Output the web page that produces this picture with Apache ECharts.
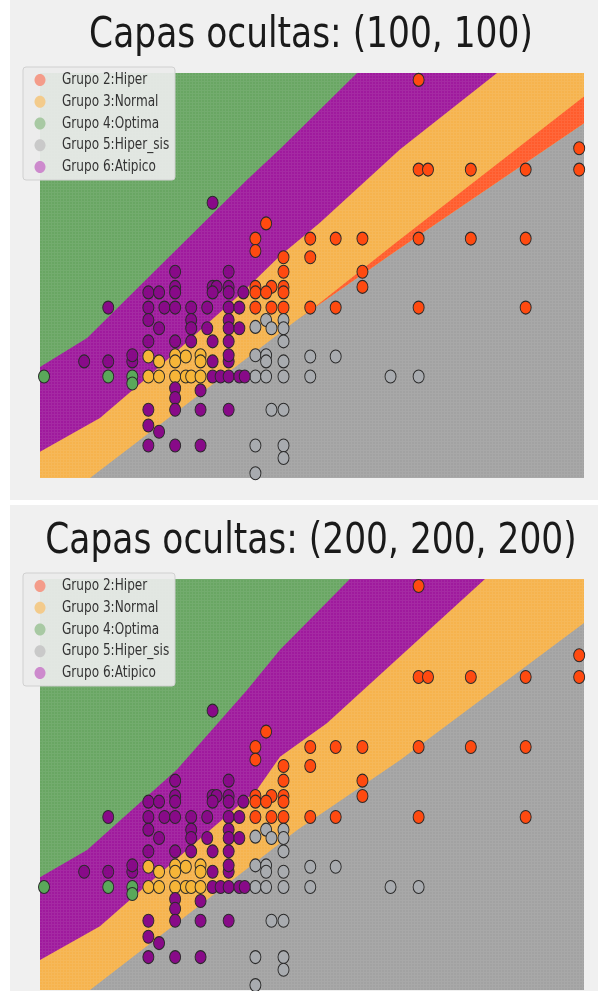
<!DOCTYPE html>
<html>
<head>
<meta charset="utf-8">
<script src="https://cdn.jsdelivr.net/npm/echarts@6/dist/echarts.min.js"></script>
<style>
  html, body { margin: 0; padding: 0; background: #ffffff; }
  #chart { width: 600px; height: 991px; }
</style>
</head>
<body>
<div id="chart"></div>
<script>
// Class names and panel titles
const groupNames = ['Grupo 2:Hiper', 'Grupo 3:Normal', 'Grupo 4:Optima', 'Grupo 5:Hiper_sis', 'Grupo 6:Atipico'];
const panelTitles = ['Capas ocultas: (100, 100)', 'Capas ocultas: (200, 200, 200)'];

// Axis extents of the decision mesh
const xRange = [-1.5, 201.8];
const yRange = [55.3, 114];

// Observations per class: [x, y]
const hiper = [
  [140, 113], [200, 103.1],
  [140, 100], [143.5, 100], [159.5, 100], [180, 100], [200, 100],
  [83, 92.2],
  [79, 90], [99.5, 90], [109, 90], [119, 90], [140, 90], [159.5, 90], [180, 90],
  [79, 88.2], [89.5, 87.3], [99.5, 87.3],
  [89.5, 85.2], [119, 85.2],
  [79, 83], [85, 83], [89.5, 83], [119, 83],
  [79, 82.2], [83, 82.2], [89.5, 82.2],
  [79, 80], [85, 80], [89.5, 80], [99.5, 80], [109, 80], [140, 80], [180, 80]
];
const normal = [
  [39, 72.9], [43, 72.2], [49, 73.1], [49, 72.2], [53, 72.9], [58.5, 73.1], [58.5, 72.2],
  [39, 70], [43, 70], [49, 70], [53, 70], [55, 70], [58.5, 70]
];
const optima = [
  [0, 70], [24, 70], [33, 70], [33, 69]
];
const hiperSis = [
  [79, 77.2], [83, 78.2], [85, 77], [89.5, 78.2], [89.5, 77],
  [89.5, 75.1],
  [79, 73.1], [83, 73.1], [83, 72.2], [89.5, 72.2], [99.5, 72.9], [109, 72.9],
  [79, 70], [83, 70], [89.5, 70], [99.5, 70], [129.5, 70], [140, 70],
  [85, 65.2], [89.5, 65.2],
  [79, 60], [89.5, 60], [89.5, 58.2], [79, 56]
];
const atipico = [
  [63, 95.2],
  [49, 85.2], [69, 85.2],
  [49, 83], [63, 83], [64.5, 83], [69, 83],
  [39, 82.2], [43, 82.2], [49, 82.2], [63, 82.2], [69, 82.2], [74.5, 82.2],
  [24, 80], [39, 80], [45, 80], [49, 80], [55, 80], [61, 80], [69, 80], [73, 80],
  [39, 78.2], [55, 78.2], [69, 78.2],
  [43, 77], [55, 77], [61, 77], [69, 77], [73, 77],
  [39, 75.1], [49, 75.1], [55, 75.1], [63, 75.1], [69, 75.1],
  [15, 72.2], [24, 72.2], [33, 72.2], [33, 73.1], [63, 72.2], [69, 72.2], [69, 73.1],
  [63, 70], [66, 70], [69, 70], [73, 70], [75, 70],
  [49, 68.3], [58.5, 68], [49, 66.9],
  [39, 65.2], [49, 65.2], [58.5, 65.2], [69, 65.2],
  [39, 62.9], [43, 62],
  [39, 60], [49, 60], [58.5, 60]
];
const groupData = [hiper, normal, optima, hiperSis, atipico];

// Decision frontiers of the first network (100, 100)
const frontierOptima1 = [[-1.5, 71.4], [16.1, 75.6], [75.8, 98.5], [88.2, 103.0], [117, 114]];
const frontierAtipico1 = [[-1.5, 59.1], [20.9, 64.0], [39.6, 70.2], [53.4, 75.0], [74.4, 82.3], [88.2, 87.5], [103.1, 92.3], [133, 102.9], [169.3, 114]];
const frontierNormal1 = [[17.2, 55.3], [94.5, 78.2], [131.1, 88.1], [201.8, 106.7]];
const bandHiper1 = [[98, 79.1], [131.1, 89.3], [201.8, 110.6], [201.8, 106.7], [131.1, 88.1], [94.5, 78.2]];

// Decision frontiers of the second network (200, 200, 200)
const frontierOptima2 = [[-1.5, 71.4], [16.1, 75.3], [49.7, 86.8], [75.8, 98.1], [88.2, 103.9], [114.3, 114]];
const frontierAtipico2 = [[-1.5, 59.6], [20.9, 64.4], [53.4, 75.3], [79.6, 83.9], [88.2, 88.6], [105.7, 93.4], [164.8, 114]];
const frontierNormal2 = [[17.2, 55.3], [94.5, 78.1], [133, 88.1], [201.8, 107.7]];

const regionColors = { hiperSis: '#a2a2a2', normal: '#f6b34d', atipico: '#9f1a9d', optima: '#69a663', hiper: '#ff5c2c' };
const pointColors = ['#ff4a10', '#f6b538', '#5aa85a', '#a8abaf', '#880a88'];
const legendColors = ['#f49c8a', '#f3cb8c', '#a8c9a3', '#c9c9c9', '#cd8acd'];

const [x0, x1] = xRange;
const [y0, y1] = yRange;

// Polygons filled layer by layer: gray base, then everything above each frontier
function regionPolygons(fOptima, fAtipico, fNormal, band) {
  const list = [
    { pts: [[x0, y0], [x1, y0], [x1, y1], [x0, y1]], color: regionColors.hiperSis },
    { pts: fNormal.concat([[x1, y1], [x0, y1], [x0, y0]]), color: regionColors.normal },
    { pts: fAtipico.concat([[x0, y1]]), color: regionColors.atipico },
    { pts: fOptima.concat([[x0, y1]]), color: regionColors.optima }
  ];
  if (band) list.push({ pts: band, color: regionColors.hiper });
  return list;
}

function regionSeries(idx, polys) {
  return {
    type: 'custom',
    xAxisIndex: idx,
    yAxisIndex: idx,
    silent: true,
    clip: true,
    z: 1,
    data: polys.map((p, i) => [i]),
    renderItem(params, api) {
      const p = polys[params.dataIndex];
      return {
        type: 'polygon',
        shape: { points: p.pts.map(q => api.coord(q)) },
        style: { fill: p.color }
      };
    }
  };
}

const grids = [
  { left: 40, top: 73, width: 544, height: 405 },
  { left: 40, top: 579, width: 544, height: 411 }
];

const series = [];
series.push(regionSeries(0, regionPolygons(frontierOptima1, frontierAtipico1, frontierNormal1, bandHiper1)));
series.push(regionSeries(1, regionPolygons(frontierOptima2, frontierAtipico2, frontierNormal2, null)));
[0, 1].forEach(idx => {
  groupNames.forEach((name, g) => {
    series.push({
      type: 'scatter',
      name: name,
      xAxisIndex: idx,
      yAxisIndex: idx,
      data: groupData[g],
      symbol: 'circle',
      symbolSize: [11, 13],
      z: 3,
      itemStyle: { color: pointColors[g], borderColor: '#2a2a2a', borderWidth: 1, opacity: 1 },
      emphasis: { disabled: true }
    });
  });
});

// Fine lattice left by the prediction mesh
const meshTile = document.createElement('canvas');
meshTile.width = 3; meshTile.height = 3;
(function () {
  const c = meshTile.getContext('2d');
  c.fillStyle = 'rgba(255,255,255,0.07)';
  c.fillRect(0, 0, 1, 3);
  c.fillRect(1, 0, 2, 1);
})();

const panelBoxes = [[10, 0, 588, 500], [10, 505, 588, 486]];
const titleY = [36, 542];
const legendTops = [67, 573];

const graphic = [];
panelBoxes.forEach(b => {
  graphic.push({ type: 'rect', shape: { x: b[0], y: b[1], width: b[2], height: b[3] }, style: { fill: '#f0f0f0' }, z: -10, silent: true });
});
grids.forEach(g => {
  graphic.push({ type: 'rect', shape: { x: g.left, y: g.top, width: g.width, height: g.height }, style: { fill: { image: meshTile, repeat: 'repeat' } }, z: 2, silent: true });
});
panelTitles.forEach((t, i) => {
  graphic.push({
    type: 'text', x: 311, y: titleY[i], scaleX: 0.82, silent: true, z: 10,
    style: { text: t, fontFamily: 'DejaVu Sans', fontSize: 42, fill: '#1a1a1a', align: 'center', verticalAlign: 'middle' }
  });
});

// Legend box of each panel
legendTops.forEach(top => {
  graphic.push({
    type: 'rect', z: 8, silent: true, shape: { x: 23, y: top, width: 152, height: 113, r: 3 },
    style: { fill: 'rgba(236,236,236,0.92)', stroke: '#d0d0d0', lineWidth: 1 }
  });
  groupNames.forEach((n, i) => {
    const cy = top + 13 + i * 21.75;
    graphic.push({ type: 'ellipse', z: 9, silent: true, shape: { cx: 40, cy: cy, rx: 5.5, ry: 6 }, style: { fill: legendColors[i] } });
    graphic.push({
      type: 'text', z: 9, silent: true, x: 62, y: cy, scaleX: 0.78,
      style: { text: n, fontFamily: 'DejaVu Sans', fontSize: 15.5, fill: '#333333', align: 'left', verticalAlign: 'middle' }
    });
  });
});

const chart = echarts.init(document.getElementById('chart'), null, { renderer: 'canvas' });
chart.setOption({
  animation: false,
  backgroundColor: '#ffffff',
  grid: grids,
  xAxis: grids.map((g, i) => ({ type: 'value', gridIndex: i, min: x0, max: x1, show: false })),
  yAxis: grids.map((g, i) => ({ type: 'value', gridIndex: i, min: y0, max: y1, show: false })),
  graphic: graphic,
  series: series
});
</script>
</body>
</html>
